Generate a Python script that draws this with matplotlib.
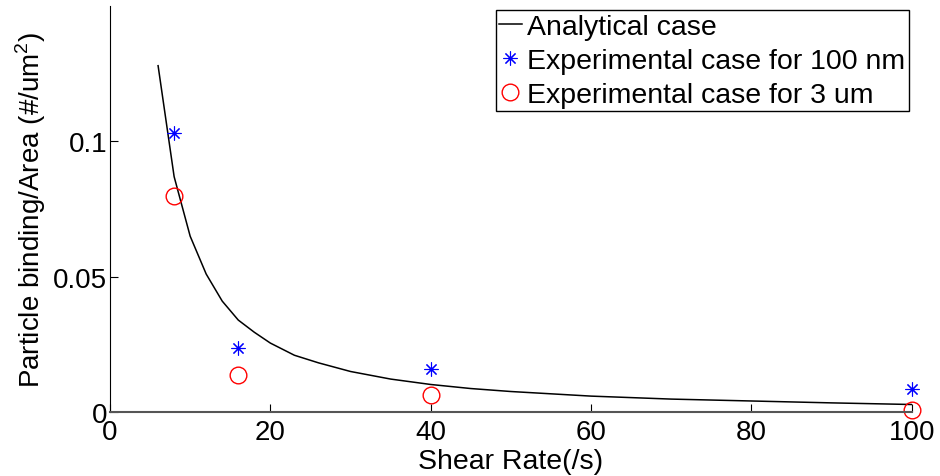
import matplotlib
matplotlib.use("Agg")
import matplotlib.pyplot as plt

# analytical curve
shear = [6, 8, 10, 12, 14, 16, 18, 20, 23, 26, 30, 35, 40, 45, 50, 60, 70, 80, 90, 100]
analytical = [0.128, 0.087, 0.065, 0.051, 0.041, 0.034, 0.0295, 0.0255, 0.021, 0.0182,
              0.015, 0.0122, 0.0102, 0.0087, 0.0076, 0.0059, 0.0048, 0.0041, 0.0034, 0.0028]

# experimental points
exp_shear = [8, 16, 40, 100]
exp_100nm = [0.103, 0.0236, 0.0161, 0.0087]
exp_3um = [0.0797, 0.0137, 0.0062, 0.0009]

plt.rcParams["font.family"] = ["Liberation Sans", "DejaVu Sans"]
plt.rcParams["mathtext.fontset"] = "custom"
plt.rcParams["mathtext.rm"] = "Liberation Sans"

fig = plt.figure(figsize=(9.4, 4.77), dpi=100)
ax = fig.add_axes([0.117, 0.134, 0.853, 0.851])

ax.plot(shear, analytical, color="black", lw=1.1, label="Analytical case")
ax.plot(exp_shear, exp_100nm, ls="none", marker=(8, 2, 0), ms=10, mec="blue",
        mew=0.8, clip_on=False, label="Experimental case for 100 nm")
ax.plot(exp_shear, exp_3um, ls="none", marker="o", ms=12, mfc="none", mec="red",
        mew=1.0, clip_on=False, label="Experimental case for 3 um")

ax.set_xlim(0, 100)
ax.set_ylim(0, 0.15)
ax.set_xticks([0, 20, 40, 60, 80, 100])
ax.set_yticks([0, 0.05, 0.1])
ax.set_yticklabels(["0", "0.05", "0.1"])

ax.spines["top"].set_visible(False)
ax.spines["right"].set_visible(False)
ax.spines["bottom"].set_color("#555555")
ax.spines["bottom"].set_linewidth(1.5)
ax.tick_params(direction="in", length=6, labelsize=20, pad=2)
ax.tick_params(axis="x", pad=5)

ax.set_xlabel("Shear Rate(/s)", fontsize=20.5, labelpad=2)
ax.set_ylabel("Particle binding/Area (#/um$^2$)", fontsize=20, labelpad=4)

leg = ax.legend(loc="upper right", bbox_to_anchor=(0.9965, 0.99), fontsize=20.5,
                fancybox=False, edgecolor="black", framealpha=1,
                handlelength=0.8, handletextpad=0.2, borderpad=0.12,
                labelspacing=0.28, borderaxespad=0)
leg.get_frame().set_linewidth(1.0)

fig.savefig("out.png", dpi=100)
